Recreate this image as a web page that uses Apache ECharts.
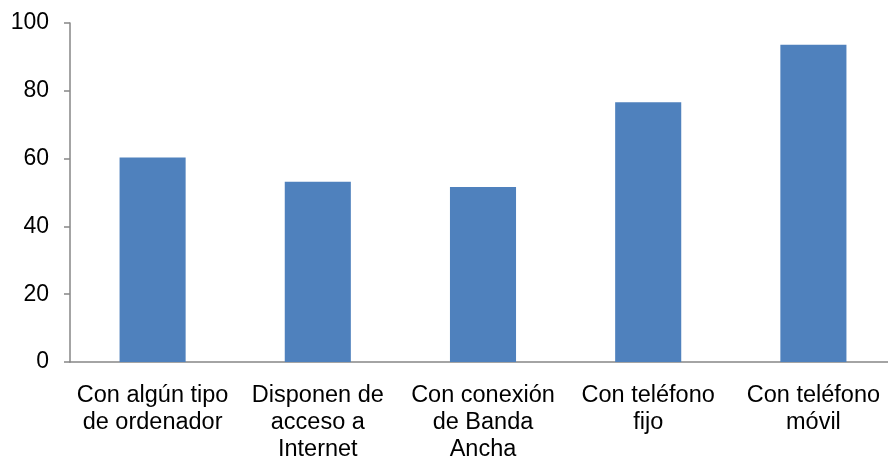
<!DOCTYPE html>
<html><head><meta charset="utf-8">
<script src="https://cdn.jsdelivr.net/npm/echarts@6/dist/echarts.min.js"></script>
<style>html,body{margin:0;padding:0;background:#fff}#c{width:888px;height:457px}</style>
</head><body><div id="c"></div>
<script>
const categories = ["Con algún tipo\nde ordenador", "Disponen de\nacceso a\nInternet", "Con conexión\nde Banda\nAncha", "Con teléfono\nfijo", "Con teléfono\nmóvil"];
const values = [60.3, 53.2, 51.6, 76.6, 93.6];
const yTicks = {min: 0, max: 100, interval: 20};

const chart = echarts.init(document.getElementById('c'), null, {renderer: 'canvas'});
chart.setOption({
  animation: false,
  grid: {left: 70, top: 23, width: 826, height: 339, containLabel: false, outerBoundsMode: 'none'},
  xAxis: {
    type: 'category', data: categories,
    axisLine: {lineStyle: {color: '#868686', width: 1.5}},
    axisTick: {alignWithLabel: false, length: 6, lineStyle: {color: '#868686', width: 1.5}},
    axisLabel: {color: '#000', fontFamily: 'Liberation Sans, Arial', fontSize: 23.5, lineHeight: 27, margin: 20, interval: 0}
  },
  yAxis: {
    type: 'value', min: yTicks.min, max: yTicks.max, interval: yTicks.interval,
    axisLine: {show: true, lineStyle: {color: '#868686', width: 1.5}},
    axisTick: {show: true, length: 6, lineStyle: {color: '#868686', width: 1.5}},
    splitLine: {show: false},
    axisLabel: {color: '#000', fontFamily: 'Liberation Sans, Arial', fontSize: 23, margin: 21}
  },
  series: [{type: 'bar', data: values, barWidth: '40%', itemStyle: {color: '#4F81BD'}}]
});
</script></body></html>
